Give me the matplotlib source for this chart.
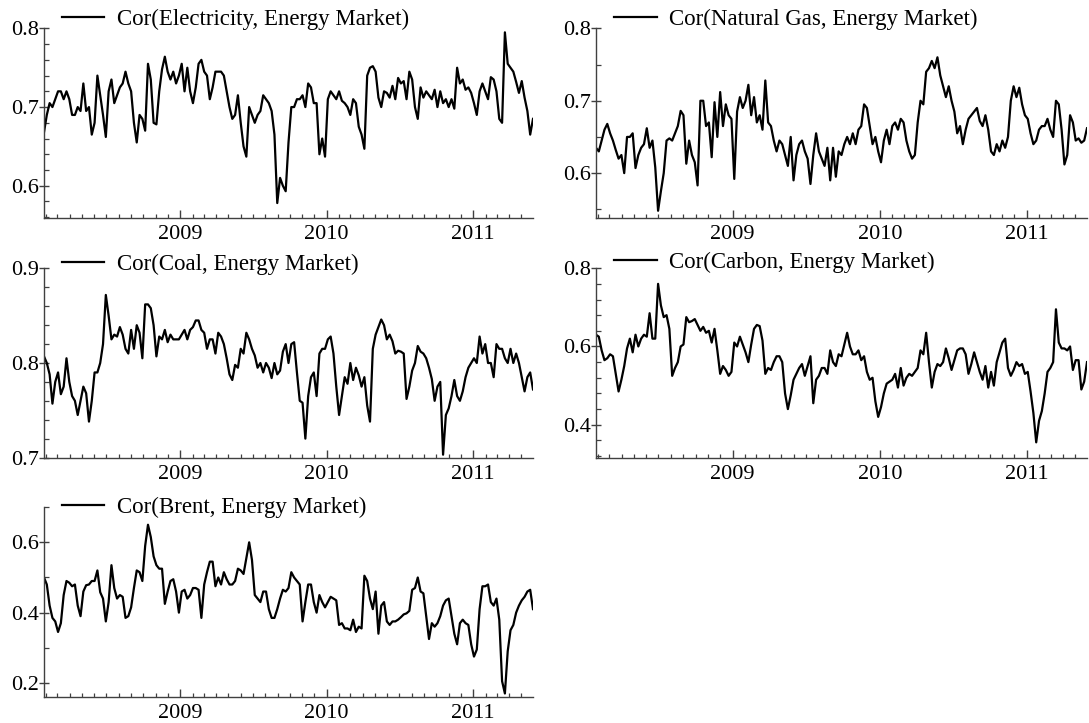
import matplotlib
matplotlib.use("Agg")
import matplotlib.pyplot as plt
import matplotlib.dates as mdates
from matplotlib.ticker import MultipleLocator, FormatStrFormatter
import pandas as pd

# weekly observations, end of Jan 2008 to end of May 2011
dates = pd.date_range("2008-01-28", periods=175, freq="7D")

electricity = [
    0.668, 0.69, 0.705, 0.70, 0.71, 0.72, 0.72, 0.71, 0.72, 0.71,
    0.69, 0.69, 0.70, 0.695, 0.73, 0.695, 0.70, 0.665, 0.68, 0.74,
    0.715, 0.69, 0.662, 0.72, 0.735, 0.705, 0.715, 0.725, 0.73, 0.745,
    0.73, 0.72, 0.68, 0.655, 0.69, 0.685, 0.67, 0.755, 0.735, 0.68,
    0.678, 0.72, 0.748, 0.764, 0.745, 0.735, 0.745, 0.73, 0.74, 0.755,
    0.72, 0.75, 0.72, 0.705, 0.725, 0.755, 0.76, 0.745, 0.74, 0.71,
    0.725, 0.745, 0.745, 0.745, 0.74, 0.72, 0.70, 0.685, 0.69, 0.715,
    0.68, 0.65, 0.637, 0.70, 0.69, 0.68, 0.69, 0.695, 0.715, 0.71,
    0.705, 0.695, 0.665, 0.578, 0.61, 0.60, 0.593, 0.655, 0.70, 0.70,
    0.71, 0.71, 0.715, 0.70, 0.73, 0.725, 0.705, 0.705, 0.64, 0.66,
    0.637, 0.71, 0.72, 0.715, 0.71, 0.72, 0.708, 0.705, 0.70, 0.69,
    0.71, 0.705, 0.675, 0.665, 0.647, 0.74, 0.75, 0.752, 0.745, 0.712,
    0.70, 0.72, 0.718, 0.712, 0.727, 0.71, 0.737, 0.73, 0.733, 0.71,
    0.745, 0.735, 0.70, 0.685, 0.725, 0.712, 0.72, 0.715, 0.71, 0.722,
    0.70, 0.72, 0.705, 0.71, 0.70, 0.71, 0.698, 0.75, 0.73, 0.735,
    0.722, 0.725, 0.718, 0.705, 0.69, 0.72, 0.73, 0.72, 0.71, 0.738,
    0.735, 0.72, 0.685, 0.68, 0.795, 0.755, 0.75, 0.745, 0.732, 0.718,
    0.733, 0.712, 0.695, 0.665, 0.685,
]

natural_gas = [
    0.635, 0.63, 0.645, 0.66, 0.668, 0.655, 0.645, 0.632, 0.62, 0.625,
    0.60, 0.65, 0.65, 0.655, 0.607, 0.625, 0.635, 0.64, 0.662, 0.635,
    0.645, 0.608, 0.548, 0.575, 0.60, 0.645, 0.648, 0.645, 0.655, 0.665,
    0.686, 0.68, 0.613, 0.645, 0.625, 0.615, 0.583, 0.70, 0.70, 0.665,
    0.67, 0.622, 0.698, 0.65, 0.712, 0.665, 0.695, 0.68, 0.675, 0.592,
    0.685, 0.705, 0.69, 0.70, 0.722, 0.68, 0.705, 0.67, 0.68, 0.66,
    0.728, 0.67, 0.665, 0.645, 0.63, 0.645, 0.64, 0.625, 0.61, 0.65,
    0.59, 0.625, 0.64, 0.645, 0.63, 0.62, 0.585, 0.625, 0.655, 0.63,
    0.62, 0.61, 0.635, 0.59, 0.635, 0.595, 0.63, 0.625, 0.64, 0.65,
    0.64, 0.655, 0.64, 0.66, 0.665, 0.695, 0.69, 0.665, 0.64, 0.65,
    0.63, 0.615, 0.645, 0.66, 0.64, 0.665, 0.67, 0.66, 0.675, 0.67,
    0.645, 0.63, 0.62, 0.625, 0.67, 0.70, 0.695, 0.74, 0.745, 0.755,
    0.745, 0.76, 0.735, 0.72, 0.705, 0.72, 0.70, 0.685, 0.655, 0.665,
    0.64, 0.66, 0.675, 0.68, 0.685, 0.69, 0.672, 0.665, 0.68, 0.66,
    0.63, 0.625, 0.64, 0.63, 0.645, 0.635, 0.65, 0.70, 0.72, 0.705,
    0.718, 0.695, 0.68, 0.675, 0.655, 0.64, 0.645, 0.66, 0.665, 0.665,
    0.675, 0.66, 0.65, 0.70, 0.695, 0.66, 0.612, 0.625, 0.68, 0.67,
    0.645, 0.648, 0.642, 0.645, 0.662,
]

coal = [
    0.807, 0.80, 0.788, 0.757, 0.78, 0.79, 0.767, 0.775, 0.805, 0.78,
    0.765, 0.76, 0.745, 0.76, 0.775, 0.768, 0.738, 0.76, 0.79, 0.79,
    0.80, 0.82, 0.872, 0.85, 0.825, 0.83, 0.828, 0.838, 0.83, 0.815,
    0.81, 0.835, 0.815, 0.84, 0.832, 0.805, 0.862, 0.862, 0.858, 0.84,
    0.807, 0.828, 0.825, 0.835, 0.822, 0.83, 0.825, 0.825, 0.825, 0.83,
    0.835, 0.825, 0.835, 0.838, 0.845, 0.845, 0.835, 0.832, 0.815, 0.825,
    0.825, 0.81, 0.832, 0.828, 0.82, 0.805, 0.788, 0.782, 0.798, 0.795,
    0.815, 0.81, 0.832, 0.825, 0.815, 0.808, 0.795, 0.80, 0.79, 0.80,
    0.795, 0.784, 0.80, 0.788, 0.792, 0.812, 0.82, 0.80, 0.82, 0.822,
    0.79, 0.76, 0.758, 0.72, 0.765, 0.785, 0.79, 0.765, 0.81, 0.815,
    0.815, 0.825, 0.828, 0.81, 0.775, 0.745, 0.765, 0.785, 0.778, 0.80,
    0.782, 0.795, 0.787, 0.775, 0.785, 0.755, 0.738, 0.815, 0.83, 0.838,
    0.846, 0.84, 0.825, 0.83, 0.823, 0.81, 0.813, 0.812, 0.81, 0.762,
    0.775, 0.792, 0.80, 0.818, 0.812, 0.81, 0.805, 0.795, 0.783, 0.76,
    0.775, 0.78, 0.703, 0.745, 0.752, 0.765, 0.782, 0.765, 0.76, 0.77,
    0.785, 0.795, 0.80, 0.805, 0.80, 0.828, 0.81, 0.82, 0.80, 0.80,
    0.785, 0.82, 0.815, 0.815, 0.805, 0.80, 0.815, 0.80, 0.81, 0.80,
    0.785, 0.77, 0.785, 0.79, 0.772,
]

carbon = [
    0.63, 0.625, 0.59, 0.565, 0.57, 0.58, 0.575, 0.53, 0.485, 0.515,
    0.55, 0.595, 0.62, 0.585, 0.63, 0.60, 0.62, 0.63, 0.625, 0.685,
    0.62, 0.62, 0.76, 0.705, 0.675, 0.68, 0.645, 0.525, 0.545, 0.56,
    0.60, 0.605, 0.675, 0.662, 0.665, 0.67, 0.655, 0.64, 0.65, 0.635,
    0.64, 0.61, 0.645, 0.59, 0.53, 0.55, 0.54, 0.525, 0.535, 0.61,
    0.60, 0.625, 0.605, 0.585, 0.56, 0.605, 0.645, 0.655, 0.652, 0.615,
    0.53, 0.545, 0.54, 0.56, 0.575, 0.575, 0.56, 0.48, 0.44, 0.475,
    0.515, 0.53, 0.545, 0.555, 0.525, 0.55, 0.575, 0.455, 0.515, 0.525,
    0.545, 0.545, 0.53, 0.59, 0.56, 0.55, 0.58, 0.575, 0.605, 0.635,
    0.60, 0.58, 0.58, 0.59, 0.565, 0.575, 0.535, 0.515, 0.52, 0.46,
    0.42, 0.445, 0.48, 0.505, 0.51, 0.515, 0.53, 0.495, 0.545, 0.50,
    0.52, 0.53, 0.525, 0.535, 0.545, 0.59, 0.58, 0.635, 0.56, 0.495,
    0.535, 0.555, 0.55, 0.56, 0.595, 0.57, 0.54, 0.565, 0.59, 0.595,
    0.595, 0.58, 0.53, 0.555, 0.585, 0.56, 0.535, 0.515, 0.55, 0.495,
    0.535, 0.50, 0.56, 0.585, 0.61, 0.62, 0.545, 0.525, 0.54, 0.56,
    0.55, 0.555, 0.53, 0.535, 0.485, 0.43, 0.355, 0.41, 0.435, 0.48,
    0.535, 0.545, 0.56, 0.695, 0.61, 0.595, 0.595, 0.59, 0.60, 0.54,
    0.565, 0.565, 0.49, 0.51, 0.56,
]

brent = [
    0.50, 0.48, 0.42, 0.385, 0.375, 0.345, 0.37, 0.45, 0.49, 0.485,
    0.475, 0.48, 0.42, 0.39, 0.46, 0.478, 0.48, 0.49, 0.49, 0.52,
    0.458, 0.44, 0.375, 0.43, 0.535, 0.47, 0.44, 0.45, 0.445, 0.385,
    0.39, 0.415, 0.47, 0.52, 0.515, 0.49, 0.59, 0.65, 0.615, 0.56,
    0.535, 0.525, 0.525, 0.425, 0.46, 0.49, 0.495, 0.46, 0.40, 0.46,
    0.465, 0.44, 0.45, 0.47, 0.47, 0.465, 0.385, 0.48, 0.515, 0.545,
    0.545, 0.475, 0.50, 0.48, 0.515, 0.495, 0.48, 0.48, 0.49, 0.525,
    0.52, 0.51, 0.555, 0.60, 0.55, 0.45, 0.44, 0.43, 0.46, 0.46,
    0.41, 0.385, 0.385, 0.41, 0.44, 0.465, 0.46, 0.47, 0.515, 0.50,
    0.49, 0.48, 0.375, 0.43, 0.48, 0.48, 0.43, 0.40, 0.45, 0.43,
    0.415, 0.43, 0.445, 0.44, 0.435, 0.365, 0.37, 0.355, 0.355, 0.35,
    0.38, 0.345, 0.36, 0.355, 0.505, 0.49, 0.44, 0.41, 0.46, 0.34,
    0.42, 0.43, 0.375, 0.365, 0.375, 0.375, 0.38, 0.387, 0.395, 0.398,
    0.405, 0.465, 0.47, 0.50, 0.46, 0.455, 0.39, 0.325, 0.37, 0.36,
    0.37, 0.39, 0.42, 0.435, 0.44, 0.39, 0.34, 0.31, 0.37, 0.38,
    0.37, 0.365, 0.31, 0.275, 0.295, 0.41, 0.475, 0.475, 0.48, 0.43,
    0.42, 0.44, 0.38, 0.205, 0.17, 0.29, 0.35, 0.365, 0.40, 0.42,
    0.435, 0.445, 0.46, 0.465, 0.41,
]

labels = [
    "Cor(Electricity, Energy Market)",
    "Cor(Natural Gas, Energy Market)",
    "Cor(Coal, Energy Market)",
    "Cor(Carbon, Energy Market)",
    "Cor(Brent, Energy Market)",
]
series = [electricity, natural_gas, coal, carbon, brent]

plt.rcParams["font.family"] = ["Liberation Serif", "DejaVu Serif"]
plt.rcParams["font.size"] = 16

W, H = 1089, 723
fig = plt.figure(figsize=(W / 100, H / 100), dpi=100)

# panel boxes in pixels: left, top, right, bottom
boxes = [
    (44, 28, 533, 218),
    (596, 28, 1087, 218),
    (44, 268, 533, 458),
    (596, 268, 1087, 458),
    (44, 507, 533, 697),
]
ylims = [(0.559, 0.8005), (0.538, 0.8005), (0.6995, 0.9005), (0.315, 0.8005), (0.16, 0.7005)]
major_steps = [0.1, 0.1, 0.1, 0.2, 0.2]
minor_steps = [0.02, 0.05, 0.02, 0.04, 0.1]
legend_lift = [9, 9, 4, 6, 0]

axis_grey = "#404040"

for i, vals in enumerate(series):
    l, t, r, b = boxes[i]
    ax = fig.add_axes([l / W, 1 - b / H, (r - l) / W, (b - t) / H])
    ax.plot(dates, vals, color="black", lw=1.6, label=labels[i])
    ax.set_xlim(dates[0], dates[-1])
    ax.set_ylim(*ylims[i])

    for side in ("top", "right"):
        ax.spines[side].set_visible(False)
    for side in ("left", "bottom"):
        ax.spines[side].set_color(axis_grey)
        ax.spines[side].set_linewidth(1.0)

    ax.xaxis.set_major_locator(mdates.YearLocator())
    ax.xaxis.set_major_formatter(mdates.DateFormatter("%Y"))
    ax.xaxis.set_minor_locator(mdates.MonthLocator())
    ax.yaxis.set_major_locator(MultipleLocator(major_steps[i]))
    ax.yaxis.set_minor_locator(MultipleLocator(minor_steps[i]))
    ax.yaxis.set_major_formatter(FormatStrFormatter("%.1f"))

    ax.tick_params(axis="x", which="major", direction="in", length=6,
                   width=1.0, color=axis_grey, pad=5)
    ax.tick_params(axis="x", which="minor", direction="in", length=3,
                   width=0.9, color=axis_grey)
    ax.tick_params(axis="y", which="major", direction="inout", length=7,
                   width=1.0, color=axis_grey, pad=0.2)
    ax.tick_params(axis="y", which="minor", direction="in", length=3.5,
                   width=0.9, color=axis_grey)

    ax.legend(loc="center left",
              bbox_to_anchor=(0.037, 1 + legend_lift[i] / (b - t)),
              frameon=False, borderpad=0, borderaxespad=0,
              handlelength=1.85, handletextpad=0.55, fontsize=16.5)

fig.savefig("out.png", dpi=100)
